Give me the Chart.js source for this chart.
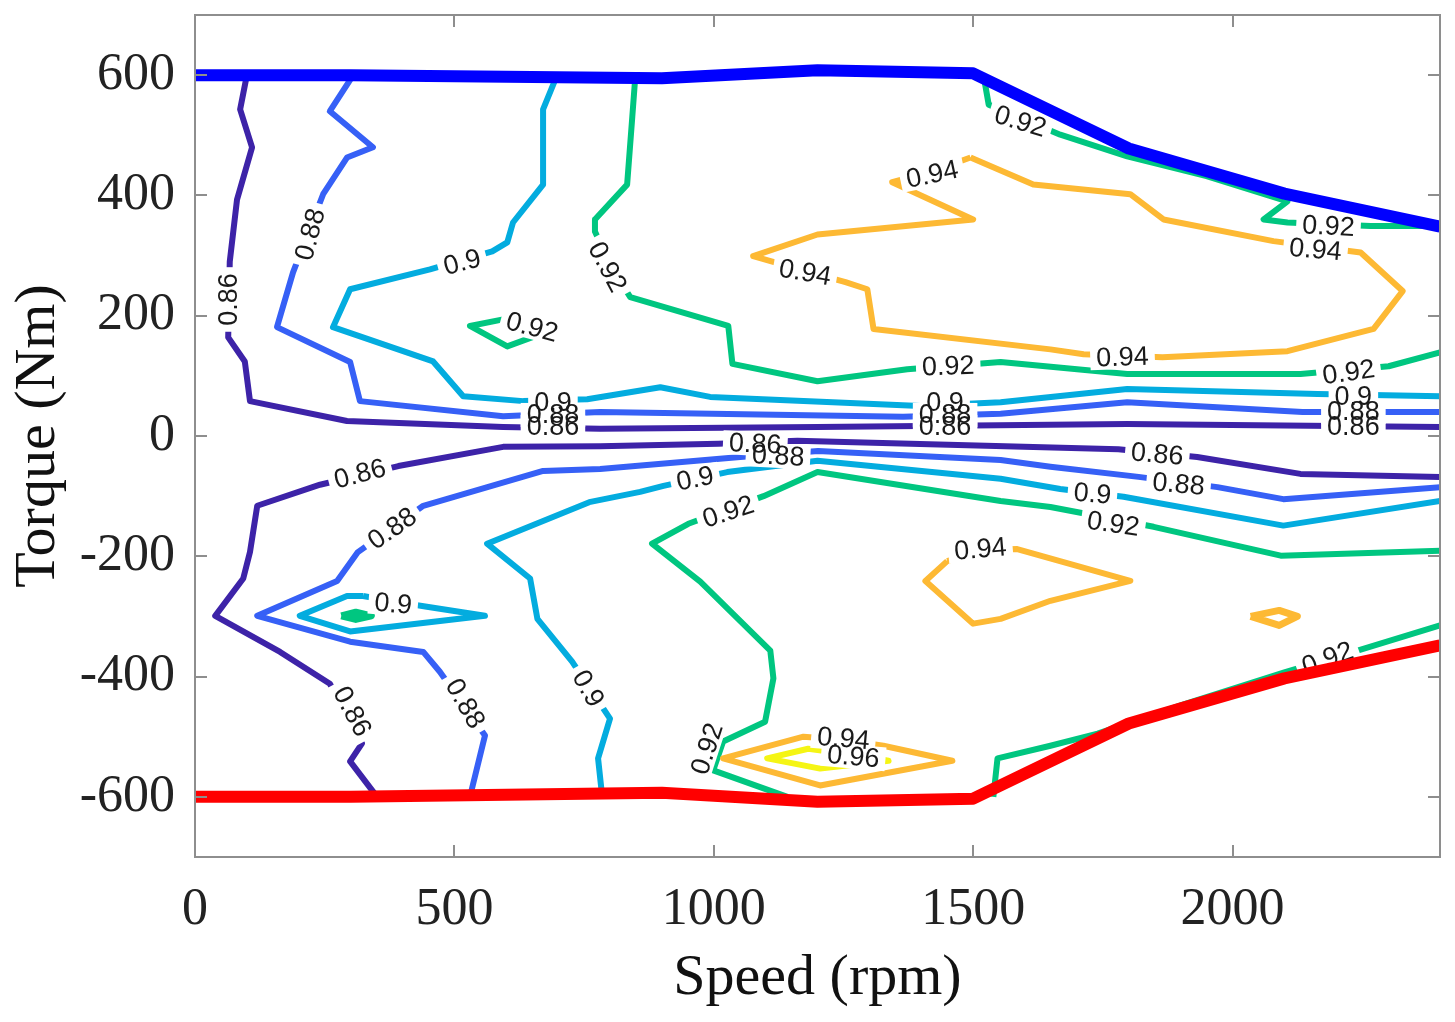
<!DOCTYPE html>
<html>
<head>
<meta charset="utf-8">
<script src="https://cdn.jsdelivr.net/npm/chart.js@4"></script>
<style>
  html, body { margin: 0; padding: 0; background: #fff; }
  #wrap { width: 1455px; height: 1022px; }
</style>
</head>
<body>
<div id="wrap"><canvas id="effMap"></canvas></div>
<script>
// ===== data (speed rpm, torque Nm) =====
const xTicks = [0, 500, 1000, 1500, 2000];
const yTicks = [-600, -400, -200, 0, 200, 400, 600];

const topLimit = [[0,600],[300,600],[900,595],[1200,608],[1500,603],[1800,478],[2100,403],[2400,348]];
const bottomLimit = [[0,-600],[300,-600],[900,-593],[1200,-608],[1500,-603],[1800,-478],[2100,-403],[2400,-348]];

const c086Upper = [[100,600],[87,543],[110,480],[81,393],[67,290],[64,164],[96,124],[106,58],[293,25],[594,15],[781,12],[1200,15],[1797,20],[2400,15]];
const c086Lower = [[2400,-68],[2131,-63],[1932,-35],[1780,-22],[1161,-8],[1009,-13],[781,-17],[594,-18],[392,-50],[241,-81],[120,-116],[106,-193],[93,-237],[39,-299],[164,-359],[260,-412],[322,-511],[299,-541],[351,-600]];

const c088Upper = [[305,600],[260,540],[343,480],[293,463],[247,402],[189,272],[158,181],[299,123],[318,58],[594,33],[781,40],[1365,32],[1553,37],[1797,56],[2135,40],[2400,40]];
const c088Lower = [[2400,-85],[2098,-105],[1971,-85],[1819,-68],[1649,-51],[1553,-40],[1201,-25],[1051,-35],[781,-55],[671,-58],[440,-116],[314,-193],[274,-241],[120,-299],[299,-342],[440,-359],[472,-392],[559,-498],[530,-600]];

const c090Upper = [[698,600],[671,543],[671,418],[613,355],[602,322],[573,307],[453,277],[299,244],[266,181],[459,124],[517,66],[633,58],[756,61],[897,81],[993,65],[1398,50],[1553,56],[1797,78],[2164,70],[2400,66]];
const c090Lower = [[2400,-108],[2098,-149],[1790,-101],[1668,-88],[1553,-71],[1200,-41],[1026,-60],[903,-83],[858,-93],[760,-110],[563,-179],[646,-237],[660,-304],[727,-375],[800,-470],[777,-536],[785,-600]];
const c090Loop = [[324,-266],[293,-266],[202,-299],[299,-325],[559,-299],[447,-284],[382,-275],[324,-266]];

const c092Dot = [[282,-299],[310,-293],[340,-299],[310,-305],[282,-299]];
const c092Loop = [[594,194],[530,183],[602,149],[665,169],[630,185],[594,194]];
const c092Upper = [[849,600],[843,531],[833,418],[771,360],[771,340],[800,285],[839,231],[1028,183],[1036,120],[1200,91],[1373,111],[1553,123],[1797,103],[2131,103],[2301,116],[2400,139]];
const c092TopRight = [[1520,600],[1530,551],[1668,501],[1797,465],[1950,432],[2106,390],[2060,360],[2106,355],[2266,349],[2400,349]];
const c092Lower = [[2400,-191],[2093,-199],[1848,-151],[1697,-126],[1649,-118],[1553,-108],[1200,-60],[1096,-100],[951,-146],[881,-179],[974,-242],[1109,-357],[1115,-403],[1099,-475],[1018,-508],[999,-556],[1142,-600]];
const c092LowerRight = [[1539,-600],[1547,-536],[1649,-515],[1740,-495],[1900,-448],[2100,-393],[2233,-359],[2400,-315]];

const c094Upper = [[1495,463],[1421,440],[1344,422],[1500,360],[1200,335],[1076,299],[1165,277],[1254,256],[1296,244],[1308,178],[1649,144],[1713,136],[1865,131],[2106,141],[2272,178],[2328,241],[2247,305],[2079,324],[1867,360],[1803,402],[1616,418],[1495,463]];
const c094Lower = [[1450,-208],[1514,-190],[1585,-188],[1803,-241],[1649,-274],[1553,-304],[1500,-312],[1408,-241],[1450,-208]];
const c094Blob = [[2035,-300],[2090,-290],[2125,-300],[2090,-315],[2035,-300]];
const c094Bottom = [[1250,-505],[1173,-500],[1018,-536],[1205,-581],[1460,-540],[1327,-515],[1250,-505]];
const c096 = [[1269,-530],[1182,-520],[1103,-536],[1205,-553],[1337,-540],[1269,-530]];

// contour labels: text, speed, torque, angle (deg)
const labelText = ["0.86","0.88","0.9","0.92","0.92","0.9","0.88","0.86","0.94","0.94","0.92","0.92","0.9","0.88","0.86","0.94","0.92","0.94","0.92","0.9","0.88","0.86",
  "0.86","0.88","0.9","0.86","0.88","0.9","0.86","0.88","0.9","0.92","0.94","0.92","0.94","0.96","0.86","0.88","0.9","0.92","0.92"];
const labelX = [64,222,515,650,795,690,690,690,1421,1176,1591,1452,1446,1446,1446,1788,2185,2160,2224,2233,2233,2233,
  318,380,382,303,521,758,1080,1124,964,1028,1514,987,1250,1269,1855,1896,1730,1770,2183];
const labelY = [227,335,289,181,281,56,35,15,435,272,523,116,55,35,15,131,349,310,106,66,40,15,
  -63,-154,-279,-458,-445,-420,-13,-33,-71,-126,-188,-520,-503,-533,-30,-80,-96,-146,-370];
const labelAngle = [-90,-75,-15,15,62,0,0,0,-12,10,17,-2,0,0,0,-2,3,5,-8,0,0,0,
  -15,-35,5,62,60,60,3,3,-12,-18,-5,-72,5,5,5,5,5,8,-20];

const colors = {
  "0.86": "#3d23a8",
  "0.88": "#3660f6",
  "0.9": "#03acdf",
  "0.92": "#00c680",
  "0.94": "#fdb934",
  "0.96": "#f5f514",
};

const toPts = (arr) => arr.map((p) => ({ x: p[0], y: p[1] }));

const line = (pts, color, width) => ({
  data: toPts(pts),
  showLine: true,
  borderColor: color,
  backgroundColor: color,
  borderWidth: width,
  pointRadius: 0,
  borderJoinStyle: "round",
  fill: false,
  tension: 0,
});

const serif = "'Liberation Serif', 'Times New Roman', serif";

// ======== labels drawn over contours, below the limit curves ========
const contourLabels = {
  id: "contourLabels",
  beforeDatasetDraw(chart, args) {
    if (args.index !== 1) return;
    const { ctx, scales } = chart;
    ctx.save();
    ctx.font = "27px 'Liberation Sans', Arial, sans-serif";
    ctx.textAlign = "center";
    ctx.textBaseline = "middle";
    // white boxes first so stacked labels don't hide each other
    for (let pass = 0; pass < 2; pass++) {
      labelText.forEach((t, i) => {
        const px = scales.x.getPixelForValue(labelX[i]);
        const py = scales.y.getPixelForValue(labelY[i]);
        ctx.save();
        ctx.translate(px, py);
        ctx.rotate((labelAngle[i] * Math.PI) / 180);
        if (pass === 0) {
          const w = ctx.measureText(t).width + 12;
          ctx.fillStyle = "#fff";
          ctx.fillRect(-w / 2, -12, w, 24);
        } else {
          ctx.fillStyle = "#1a1a1a";
          ctx.fillText(t, 0, 1);
        }
        ctx.restore();
      });
    }
    ctx.restore();
  },
};

// ======== box and inward ticks (matlab style) ========
const axesBox = {
  id: "axesBox",
  afterDraw(chart) {
    const { ctx, chartArea: a, scales } = chart;
    const len = 12;
    ctx.save();
    ctx.strokeStyle = "#8e8e8e";
    ctx.lineWidth = 2;
    ctx.strokeRect(a.left, a.top, a.right - a.left, a.bottom - a.top);
    ctx.beginPath();
    xTicks.forEach((v) => {
      const px = Math.round(scales.x.getPixelForValue(v));
      ctx.moveTo(px, a.bottom); ctx.lineTo(px, a.bottom - len);
      ctx.moveTo(px, a.top); ctx.lineTo(px, a.top + len);
    });
    yTicks.forEach((v) => {
      const py = Math.round(scales.y.getPixelForValue(v));
      ctx.moveTo(a.left, py); ctx.lineTo(a.left + len, py);
      ctx.moveTo(a.right, py); ctx.lineTo(a.right - len, py);
    });
    ctx.stroke();
    ctx.restore();
  },
};

new Chart(document.getElementById("effMap"), {
  type: "scatter",
  data: {
    datasets: [
      line(topLimit, "#0000ff", 12),
      line(bottomLimit, "#ff0000", 12),
      line(c096, colors["0.96"], 6),
      line(c094Upper, colors["0.94"], 6),
      line(c094Lower, colors["0.94"], 6),
      line(c094Blob, colors["0.94"], 7),
      line(c094Bottom, colors["0.94"], 6),
      line(c092Dot, colors["0.92"], 7),
      line(c092Loop, colors["0.92"], 6),
      line(c092Upper, colors["0.92"], 6),
      line(c092TopRight, colors["0.92"], 6),
      line(c092Lower, colors["0.92"], 6),
      line(c092LowerRight, colors["0.92"], 6),
      line(c090Upper, colors["0.9"], 6),
      line(c090Lower, colors["0.9"], 6),
      line(c090Loop, colors["0.9"], 6),
      line(c088Upper, colors["0.88"], 6),
      line(c088Lower, colors["0.88"], 6),
      line(c086Upper, colors["0.86"], 6),
      line(c086Lower, colors["0.86"], 6),
    ],
  },
  options: {
    responsive: true,
    maintainAspectRatio: false,
    animation: false,
    layout: { padding: { top: 15, right: 15, left: 0, bottom: 0 } },
    plugins: { legend: { display: false }, tooltip: { enabled: false } },
    scales: {
      x: {
        type: "linear",
        min: 0,
        max: 2400,
        afterBuildTicks: (s) => { s.ticks = xTicks.map((v) => ({ value: v })); },
        afterFit: (s) => { s.height = 165; s.paddingLeft = 0; s.paddingRight = 0; },
        grid: { display: false, drawTicks: false },
        border: { display: false },
        ticks: {
          color: "#222",
          padding: 22,
          font: { family: serif, size: 52 },
          callback: (v) => String(v),
        },
        title: {
          display: true,
          text: "Speed (rpm)",
          color: "#111",
          font: { family: serif, size: 58 },
          padding: { top: 0, bottom: 8 },
        },
      },
      y: {
        type: "linear",
        min: -700,
        max: 700,
        afterBuildTicks: (s) => { s.ticks = yTicks.map((v) => ({ value: v })); },
        afterFit: (s) => { s.width = 195; s.paddingTop = 0; s.paddingBottom = 0; },
        grid: { display: false, drawTicks: false },
        border: { display: false },
        ticks: {
          color: "#222",
          padding: 20,
          font: { family: serif, size: 52 },
          callback: (v) => String(v),
        },
        title: {
          display: true,
          text: "Torque (Nm)",
          color: "#111",
          font: { family: serif, size: 58 },
          padding: { top: 4, bottom: 0 },
        },
      },
    },
  },
  plugins: [contourLabels, axesBox],
});
</script>
</body>
</html>
